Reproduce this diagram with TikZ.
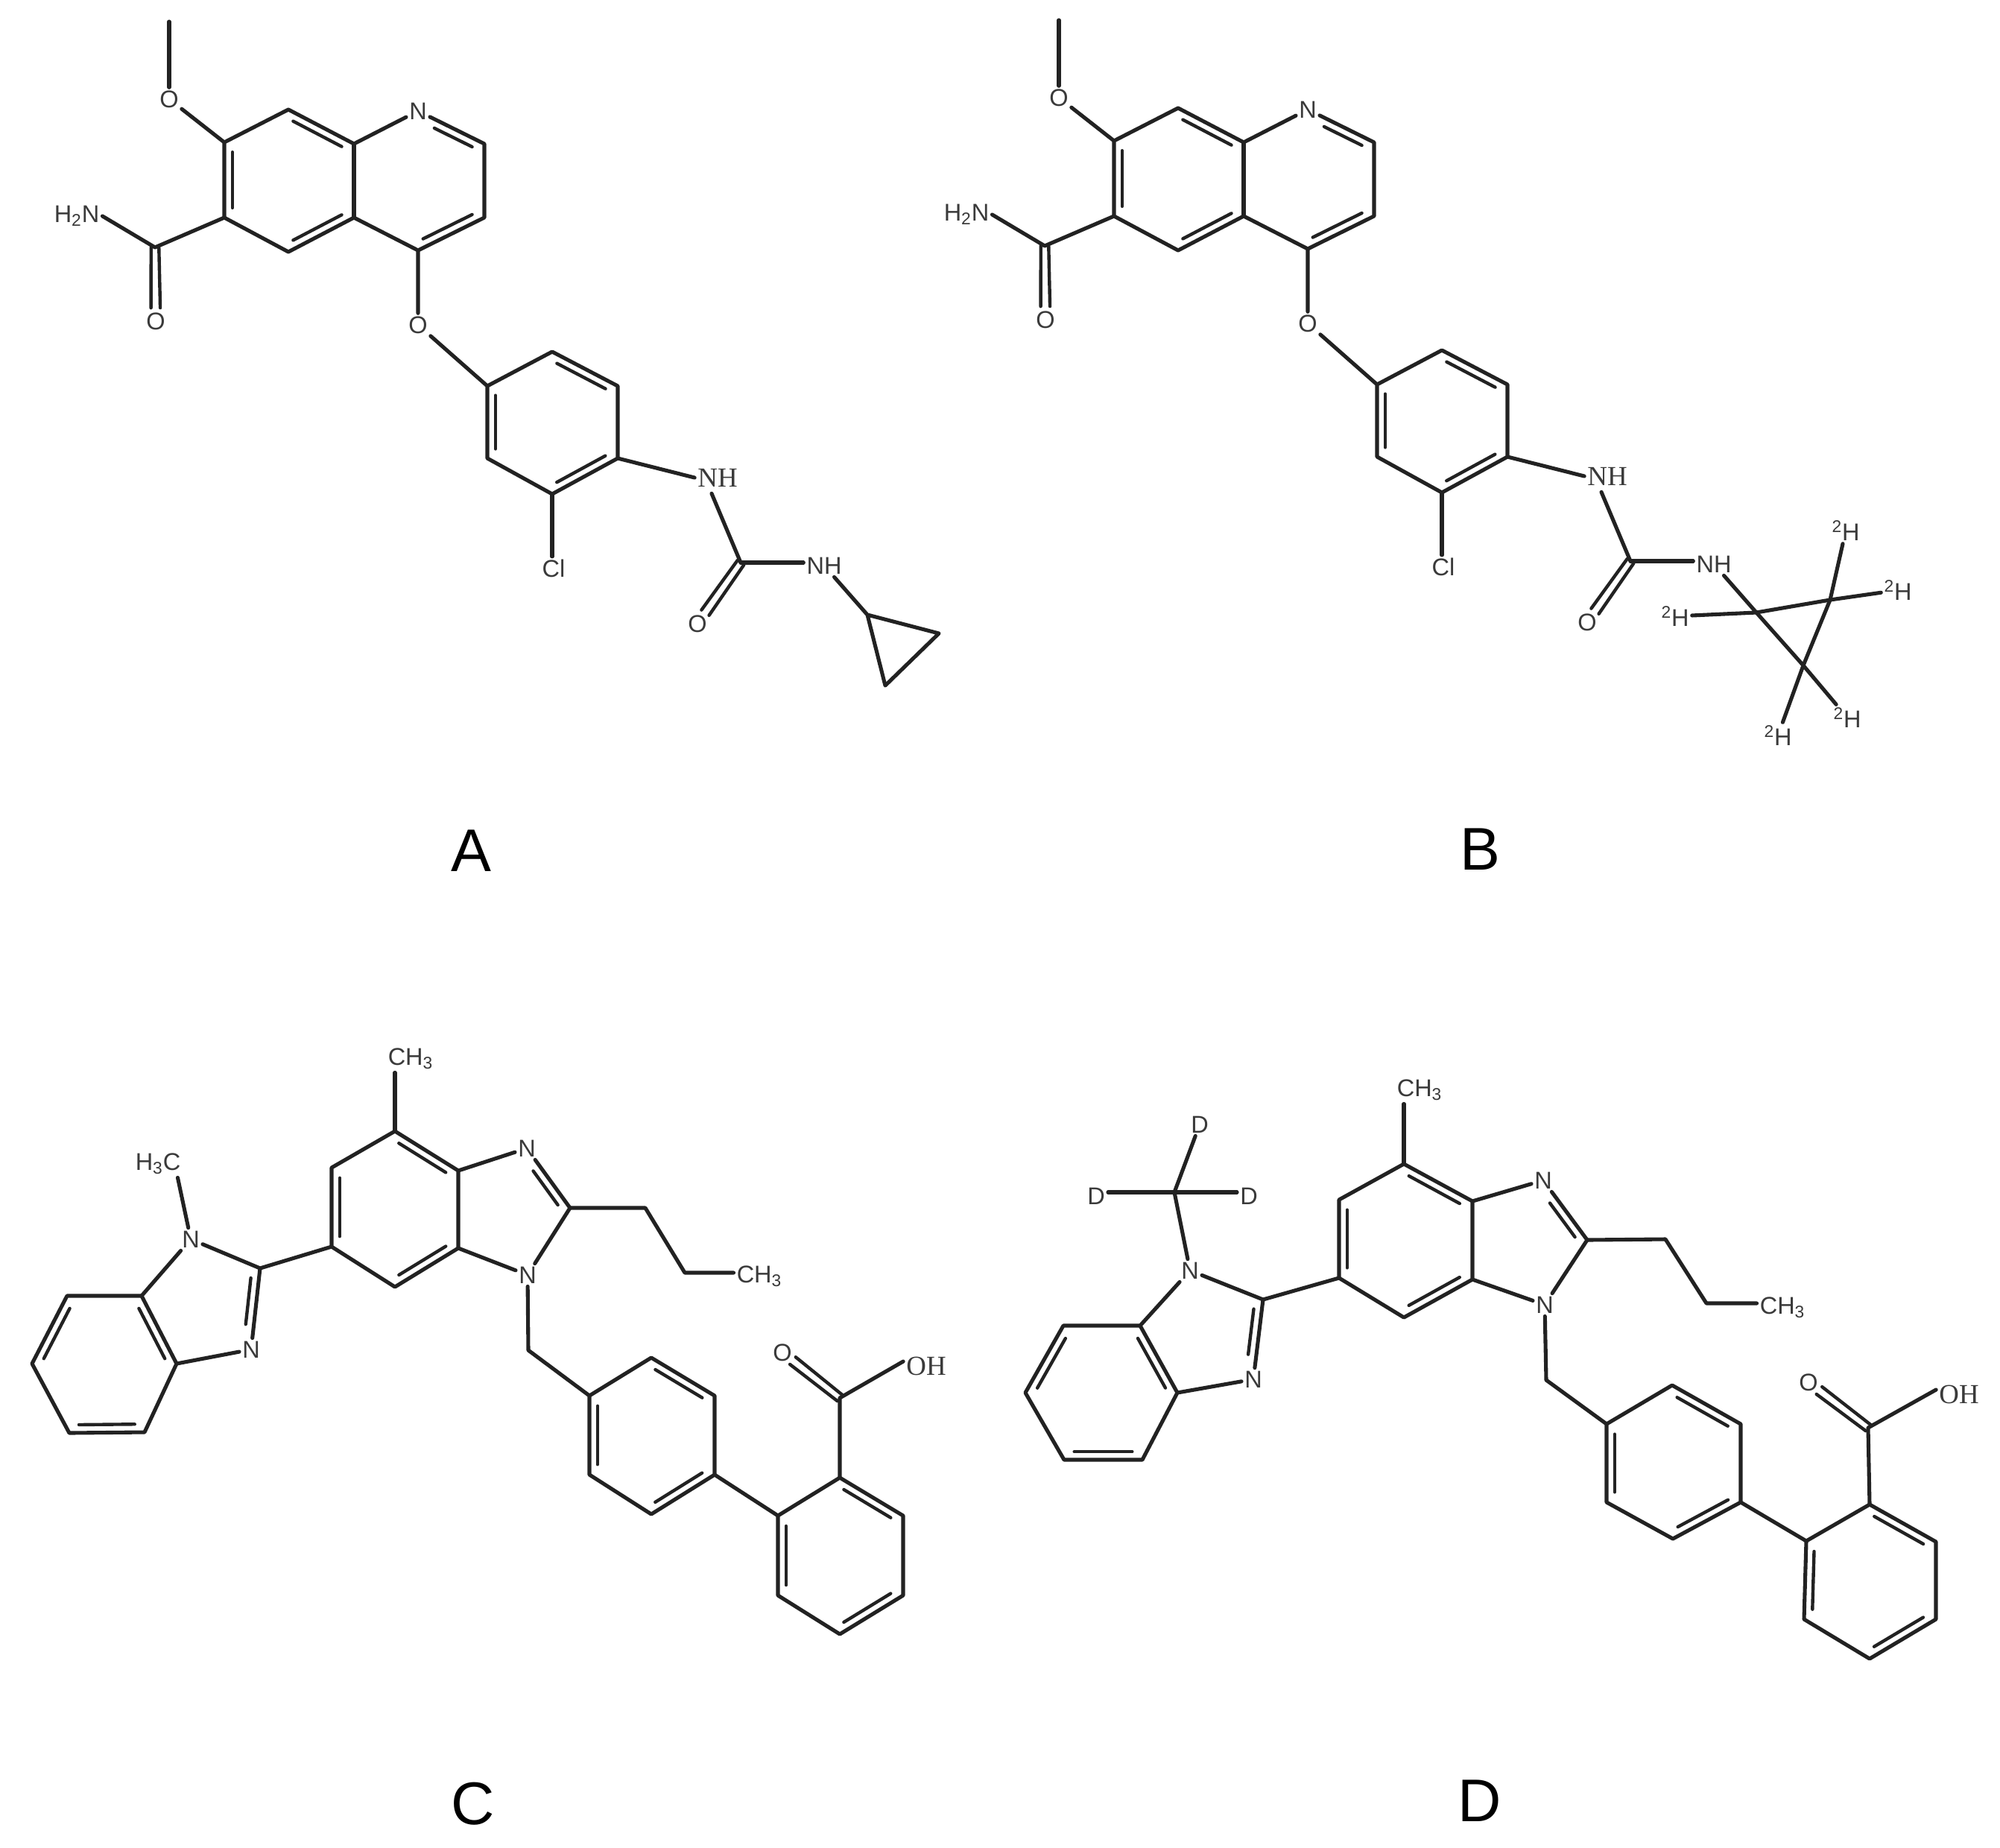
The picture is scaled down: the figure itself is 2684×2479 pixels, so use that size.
\documentclass[tikz,border=0pt]{standalone}
\usepackage{fontspec}
\setmainfont{Liberation Sans}
\newfontfamily\serifatom{Liberation Serif}
\usetikzlibrary{calc}
\definecolor{bondc}{HTML}{222222}
\definecolor{textc}{HTML}{3A3A3A}
\tikzset{
  atom/.style={inner sep=2.2pt,text=textc,font=\fontsize{18.5}{20}\selectfont},
  satom/.style={atom,font=\fontsize{21}{22}\selectfont\serifatom},
  panel/.style={inner sep=0pt,text=black,font=\fontsize{46}{50}\selectfont},
  bond/.style={draw=bondc,line width=2.9pt,line cap=round,line join=round},
  inner/.style={draw=bondc,line width=2.5pt,line cap=round},
}
\def\off{6.2pt}
% inner line of a double bond, on the right-hand side going from #2 to #3
\newcommand\db[3][.13]{\draw[inner] ($(#2)!#1!(#3)!\off!-90:(#3)$) -- ($(#3)!.13!(#2)!\off!90:(#2)$);}
% the same on the left-hand side
\newcommand\dbl[3][.13]{\draw[inner] ($(#2)!#1!(#3)!\off!90:(#3)$) -- ($(#3)!.13!(#2)!\off!-90:(#2)$);}
% carbonyl: two lines from carbon #1 to oxygen node #2
\newcommand\co[2]{%
  \draw[inner] ($(#1)!3pt!90:(#2)$) -- ($(#1)!3pt!90:(#2)!.82!(#2)!3pt!-90:(#1)$);
  \draw[inner] ($(#1)!3pt!-90:(#2)$) -- ($(#1)!3pt!-90:(#2)!.82!(#2)!3pt!90:(#1)$);}
% quinoline carboxamide, chloroaryl urea (panels A and B)
\newcommand\lenvatinib{%
  \coordinate (me) at (227,29);
  \node[atom] (om) at (227,133) {O};
  \coordinate (c7) at (301,191);
  \coordinate (c8) at (387,147);
  \coordinate (c8a) at (475,193);
  \node[atom] (n1) at (561,149) {N};
  \coordinate (c2) at (650,193);
  \coordinate (c3) at (650,292);
  \coordinate (c4) at (561,336);
  \coordinate (c4a) at (475,292);
  \coordinate (c5) at (387,338);
  \coordinate (c6) at (301,292);
  \coordinate (cam) at (208,332);
  \node[atom] (oam) at (209,431) {O};
  \node[atom] (nh2) at (103,290) {H\textsubscript{2}N};
  \node[atom] (oe) at (561,436) {O};
  \coordinate (a1) at (654,518);
  \coordinate (a2) at (741,472);
  \coordinate (a3) at (829,518);
  \coordinate (a4) at (829,615);
  \coordinate (a5) at (741,663);
  \coordinate (a6) at (654,615);
  \node[satom] (nh) at (963,641) {NH};
  \node[atom] (cl) at (743,763) {Cl};
  \coordinate (cu) at (994,755);
  \node[atom] (ou) at (936,837) {O};
  \node[atom] (nh3) at (1106,759) {NH};
  \draw[bond] (me) -- (om);
  \draw[bond] (om) -- (c7) -- (c8) -- (c8a) -- (n1) -- (c2) -- (c3) -- (c4) -- (c4a) -- (c5) -- (c6) -- (c7);
  \draw[bond] (c8a) -- (c4a);
  \draw[bond] (c6) -- (cam) -- (nh2.east);
  \draw[bond] (c4) -- (oe) -- (a1) -- (a2) -- (a3) -- (a4) -- (a5) -- (a6) -- (a1);
  \draw[bond] (a4) -- (nh.west);
  \draw[bond] ($(nh.south)+(-8,5)$) -- (cu);
  \draw[bond] (cu) -- (cu -| nh3.west);
  \draw[bond] (a5) -- (a5 |- cl.north);
  \co{cam}{oam}
  \co{cu}{ou}
  \db{c8}{c8a} \db{c4a}{c5} \db{c6}{c7}
  \db[.3]{n1}{c2} \db{c3}{c4}
  \db{a2}{a3} \db{a4}{a5} \db{a6}{a1}
}
% benzimidazole biphenyl acid skeleton (panels C and D)
\newcommand\telmibonds{%
  \draw[bond] (q4) -- (q3a) -- (q7a) -- (q7) -- (q6) -- (q5) -- cycle;
  \draw[bond] (q3a) -- (nt) -- (qc2) -- (n1) -- (q7a);
  \draw[bond] (q4) -- (q4 |- ch3a.south);
  \draw[bond] (qc2) -- (pr1) -- (pr2) -- (pr2 -| ch3b.west);
  \draw[bond] (n1) -- (ch2) -- (p1) -- (pt) -- (prt) -- (prb) -- (pb) -- (plb) -- (p1);
  \draw[bond] (prb) -- (r1) -- (rt) -- (rrt) -- (rrb) -- (rb) -- (rlb) -- (r1);
  \draw[bond] (rt) -- (cc) -- ($(oh.west)+(0,-6)$);
  \co{cc}{ocid}
  \draw[bond] (q6) -- (lc2) -- (ln1) -- (l7a) -- (l3a) -- (ln3);
  \draw[bond] (l7a) -- (b4) -- (b3) -- (b2) -- (b1) -- (l3a);
  \draw[bond] (lc2) -- (ln3);
  \db{q4}{q3a} \db{q7a}{q7} \db{q6}{q5}
  \db[.3]{nt}{qc2}
  \db{pt}{prt} \db{prb}{pb} \db{plb}{p1}
  \db{rt}{rrt} \db{rrb}{rb} \db{rlb}{r1}
  \dbl[.3]{ln3}{lc2}
  \db{l7a}{l3a} \db{b1}{b2} \db{b3}{b4}
}
\begin{document}
\begin{tikzpicture}[x=0.02cm,y=-0.02cm]
\useasboundingbox (0,0) rectangle (2684,2479);
% ---- A
\begin{scope}[name prefix=A]
  \lenvatinib
  \coordinate (cp1) at (1164,825);
  \coordinate (cp2) at (1260,850);
  \coordinate (cp3) at (1188,920);
  \draw[bond] (nh3) -- (cp1) -- (cp2) -- (cp3) -- (cp1);
\end{scope}
\node[panel] (la) at (632,1142) {A};
% ---- B
\begin{scope}[shift={(1194,-2)},name prefix=B]
  \lenvatinib
  \coordinate (cp1) at (1163,824);
  \coordinate (cp2) at (1262,807);
  \coordinate (cp3) at (1226,895);
  \node[atom] (d1) at (1054,829) {\textsuperscript{2}H};
  \node[atom] (d2) at (1283,714) {\textsuperscript{2}H};
  \node[atom] (d3) at (1353,794) {\textsuperscript{2}H};
  \node[atom] (d4) at (1285,965) {\textsuperscript{2}H};
  \node[atom] (d5) at (1192,989) {\textsuperscript{2}H};
  \draw[bond] (nh3) -- (cp1) -- (cp3) -- (d4);
  \draw[bond] (d1) -- (cp1) -- (cp2) -- (d3);
  \draw[bond] (d2) -- (cp2) -- (cp3) -- (d5);
\end{scope}
\node[panel] (lb) at (1986,1140) {B};
% ---- C
\begin{scope}[name prefix=C]
  \node[atom] (ch3a) at (551,1421) {CH\textsubscript{3}};
  \coordinate (q4) at (530,1518);
  \coordinate (q5) at (445,1567);
  \coordinate (q6) at (445,1673);
  \coordinate (q7) at (530,1727);
  \coordinate (q7a) at (615,1675);
  \coordinate (q3a) at (615,1571);
  \node[atom] (nt) at (707,1541) {N};
  \coordinate (qc2) at (765,1621);
  \node[atom] (n1) at (708,1711) {N};
  \coordinate (pr1) at (866,1621);
  \coordinate (pr2) at (919,1708);
  \node[atom] (ch3b) at (1019,1713) {CH\textsubscript{3}};
  \coordinate (ch2) at (709,1812);
  \coordinate (p1) at (791,1873);
  \coordinate (pt) at (874,1822);
  \coordinate (prt) at (959,1873);
  \coordinate (prb) at (959,1979);
  \coordinate (pb) at (874,2032);
  \coordinate (plb) at (791,1979);
  \coordinate (r1) at (1044,2034);
  \coordinate (rt) at (1127,1983);
  \coordinate (rrt) at (1212,2034);
  \coordinate (rrb) at (1212,2141);
  \coordinate (rb) at (1127,2193);
  \coordinate (rlb) at (1044,2141);
  \coordinate (cc) at (1127,1876);
  \node[atom] (ocid) at (1050,1815) {O};
  \node[satom] (oh) at (1243,1833) {OH};
  \node[atom] (ln1) at (256,1663) {N};
  \node[atom] (hc) at (212,1562) {H\textsubscript{3}C};
  \coordinate (lc2) at (349,1702);
  \node[atom] (ln3) at (337,1811) {N};
  \coordinate (l3a) at (237,1830);
  \coordinate (l7a) at (190,1739);
  \coordinate (b4) at (90,1739);
  \coordinate (b3) at (43,1830);
  \coordinate (b2) at (93,1923);
  \coordinate (b1) at (194,1922);
  \telmibonds
  \draw[bond] (ln1) -- ($(hc.south east)+(-8,0)$);
\end{scope}
\node[panel] (lc) at (635,2421) {C};
% ---- D
\begin{scope}[name prefix=D]
  \node[atom] (ch3a) at (1905,1463) {CH\textsubscript{3}};
  \coordinate (q4) at (1884,1562);
  \coordinate (q5) at (1797,1610);
  \coordinate (q6) at (1797,1715);
  \coordinate (q7) at (1884,1768);
  \coordinate (q7a) at (1976,1717);
  \coordinate (q3a) at (1976,1612);
  \node[atom] (nt) at (2071,1584) {N};
  \coordinate (qc2) at (2130,1664);
  \node[atom] (n1) at (2073,1751) {N};
  \coordinate (pr1) at (2235,1663);
  \coordinate (pr2) at (2290,1749);
  \node[atom] (ch3b) at (2392,1755) {CH\textsubscript{3}};
  \coordinate (ch2) at (2075,1852);
  \coordinate (p1) at (2156,1911);
  \coordinate (pt) at (2244,1859);
  \coordinate (prt) at (2336,1911);
  \coordinate (prb) at (2336,2016);
  \coordinate (pb) at (2245,2065);
  \coordinate (plb) at (2156,2016);
  \coordinate (r1) at (2424,2068);
  \coordinate (rt) at (2509,2019);
  \coordinate (rrt) at (2598,2069);
  \coordinate (rrb) at (2598,2173);
  \coordinate (rb) at (2509,2226);
  \coordinate (rlb) at (2421,2173);
  \coordinate (cc) at (2507,1916);
  \node[atom] (ocid) at (2427,1855) {O};
  \node[satom] (oh) at (2629,1871) {OH};
  \node[atom] (ln1) at (1597,1705) {N};
  \coordinate (cd) at (1576,1600);
  \node[atom] (dt) at (1610,1509) {D};
  \node[atom] (dl) at (1471,1605) {D};
  \node[atom] (dr) at (1676,1605) {D};
  \coordinate (lc2) at (1695,1744);
  \node[atom] (ln3) at (1682,1851) {N};
  \coordinate (l3a) at (1580,1869);
  \coordinate (l7a) at (1530,1779);
  \coordinate (b4) at (1427,1779);
  \coordinate (b3) at (1376,1869);
  \coordinate (b2) at (1428,1959);
  \coordinate (b1) at (1533,1959);
  \telmibonds
  \draw[bond] (ln1) -- (cd) -- (dt);
  \draw[bond] (cd -| dl.east) -- (cd -| dr.west);
\end{scope}
\node[panel] (ld) at (1986,2417) {D};
\end{tikzpicture}
\end{document}
